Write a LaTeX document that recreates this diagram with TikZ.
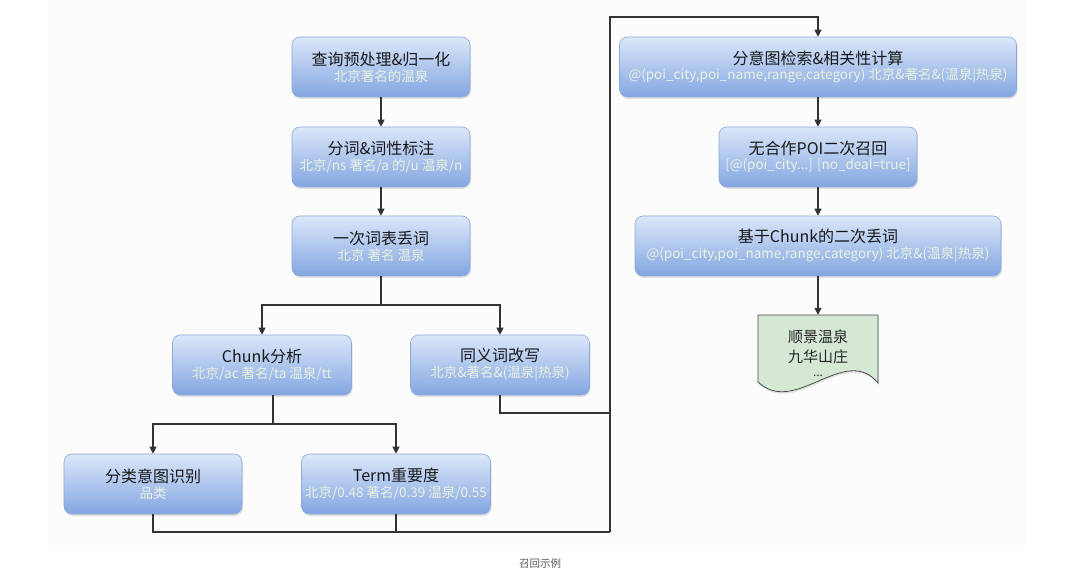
\documentclass[tikz,border=0pt]{standalone}
\usepackage{fontspec}
\setmainfont{Noto Sans CJK SC}
\usetikzlibrary{arrows.meta,shadows,calc}
\definecolor{boxtop}{HTML}{DCE7F9}
\definecolor{boxbot}{HTML}{82A6E2}
\definecolor{boxedge}{HTML}{8EA8D8}
\definecolor{subtxt}{HTML}{E9F1DF}
\definecolor{docfill}{HTML}{D5E8D4}
\definecolor{linec}{HTML}{333333}
\newcommand{\ttl}[1]{{\fontsize{16}{19}\selectfont #1}}
\newcommand{\sbt}[1]{{\fontsize{13.5}{16}\selectfont\color{subtxt}#1}}
\tikzset{
  blk/.style={rounded corners=8pt, draw=boxedge, line width=0.6pt,
    top color=boxtop, bottom color=boxbot, minimum height=60pt,
    align=center, inner sep=2pt, text=black!90,
    drop shadow={opacity=0.22, shadow xshift=1pt, shadow yshift=-2pt}},
  conn/.style={draw=linec, line width=1.1pt},
  arr/.style={conn, -{Triangle[length=7pt,width=7pt]}},
  doctxt/.style={align=center, inner sep=0pt, text=black!85}
}
\begin{document}
\begin{tikzpicture}[x=1pt,y=-1pt]
\useasboundingbox (0,0) rectangle (1080,588);
\fill[black!1] (48,0) rectangle (1026,545);
% left column
\node[blk, minimum width=178pt] (q1) at (381,67) {\ttl{查询预处理\&归一化}\\[2pt]\sbt{北京著名的温泉}};
\node[blk, minimum width=178pt] (q2) at (381,157) {\ttl{分词\&词性标注}\\[2pt]\sbt{北京/ns 著名/a 的/u 温泉/n}};
\node[blk, minimum width=178pt] (q3) at (381,246) {\ttl{一次词表丢词}\\[2pt]\sbt{北京 著名 温泉}};
\node[blk, minimum width=179pt] (chunk) at (262,365) {\ttl{Chunk分析}\\[2pt]\sbt{北京/ac 著名/ta 温泉/tt}};
\node[blk, minimum width=179pt] (syn) at (500,365) {\ttl{同义词改写}\\[2pt]\sbt{北京\&著名\&(温泉|热泉)}};
\node[blk, minimum width=178pt] (cls) at (153,484) {\ttl{分类意图识别}\\[2pt]\sbt{品类}};
\node[blk, minimum width=189pt] (term) at (396,484) {\ttl{Term重要度}\\[2pt]\sbt{北京/0.48 著名/0.39 温泉/0.55}};
% right column
\node[blk, minimum width=397pt] (r1) at (818,67) {\ttl{分意图检索\&相关性计算}\\[2pt]\sbt{@(poi\_city,poi\_name,range,category) 北京\&著名\&(温泉|热泉)}};
\node[blk, minimum width=198pt] (r2) at (818,157) {\ttl{无合作POI二次召回}\\[2pt]\sbt{[@(poi\_city...] [no\_deal=true]}};
\node[blk, minimum width=366pt] (r3) at (818,246) {\ttl{基于Chunk的二次丢词}\\[2pt]\sbt{@(poi\_city,poi\_name,range,category) 北京\&(温泉|热泉)}};
% document shape
\path[fill=docfill, draw=black!70, line width=0.8pt,
  drop shadow={opacity=0.2, shadow xshift=1pt, shadow yshift=-2pt}]
  (758,315) -- (878,315) -- (878,383) .. controls (845,343) and (795,417) .. (758,382) -- cycle;
\node[minimum width=120pt, minimum height=68pt, inner sep=0pt] (doc) at (818,349) {};
\node[doctxt, font=\fontsize{15}{20}\selectfont] (doct) at (818,347) {顺景温泉\\九华山庄};
\node[doctxt, font=\fontsize{12}{14}\selectfont] (docd) at (818,376) {...};
% connectors
\coordinate (s1) at (381,305);
\coordinate (s2) at (273,424);
\coordinate (j) at (610,532);
\coordinate (k) at (610,413);
\coordinate (t) at (610,17);
\draw[arr] (q1) -- (q2);
\draw[arr] (q2) -- (q3);
\draw[conn] (q3) -- (s1);
\draw[arr] (s1) -| (chunk);
\draw[arr] (s1) -| (syn);
\draw[conn] (s2 |- chunk.south) -- (s2);
\draw[arr] (s2) -| (cls);
\draw[arr] (s2) -| (term);
\draw[conn] (cls) |- (j);
\draw[conn] (term) -- (term |- j);
\draw[conn] (syn) |- (k);
\draw[arr] (j) -- (t) -| (r1);
\draw[arr] (r1) -- (r2);
\draw[arr] (r2) -- (r3);
\draw[arr] (r3) -- (doc);
% caption
\node[font=\fontsize{10.5}{12}\selectfont, text=black!65] (cap) at (540,564) {召回示例};
\end{tikzpicture}
\end{document}
